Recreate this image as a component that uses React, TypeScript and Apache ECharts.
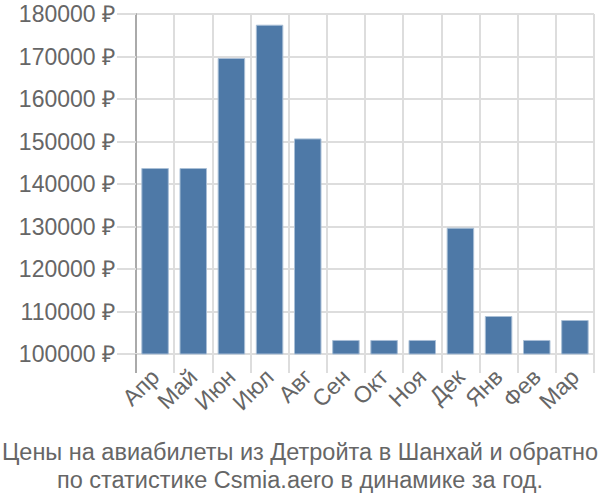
import React, { useEffect, useRef } from "react";
import * as echarts from "echarts";

const categories = ["Апр", "Май", "Июн", "Июл", "Авг", "Сен", "Окт", "Ноя", "Дек", "Янв", "Фев", "Мар"];
const prices = [143760, 143760, 169650, 177480, 150730, 103300, 103300, 103300, 129720, 108940, 103300, 108000];
const titleLines = [
  "Цены на авиабилеты из Детройта в Шанхай и обратно",
  "по статистике Csmia.aero в динамике за год.",
];

export default function App() {
  const ref = useRef<HTMLDivElement>(null);
  useEffect(() => {
    if (!ref.current) return;
    const chart = echarts.init(ref.current, undefined, { renderer: "svg" });
    const font = "Liberation Sans, Arial, sans-serif";
    chart.setOption({
      animation: false,
      backgroundColor: "#ffffff",
      textStyle: { fontFamily: font },
      title: {
        text: titleLines.join("\n"),
        left: "center",
        top: 432.5,
        textStyle: {
          fontSize: 23.5,
          fontWeight: "normal",
          color: "#666666",
          lineHeight: 28.5,
          fontFamily: font,
        },
      },
      grid: { left: 136, right: 6, top: 14, bottom: 146 },
      xAxis: {
        type: "category",
        data: categories,
        boundaryGap: true,
        axisLine: { show: true, lineStyle: { color: "#dddddd", width: 2 } },
        axisTick: { show: true, length: 19, lineStyle: { color: "#dddddd", width: 2 } },
        splitLine: { show: true, lineStyle: { color: "#dddddd", width: 2 } },
        axisLabel: {
          rotate: 45,
          fontSize: 23,
          color: "#666666",
          margin: 19,
          interval: 0,
        },
      },
      yAxis: {
        type: "value",
        min: 100000,
        max: 180000,
        interval: 10000,
        axisLine: { show: true, lineStyle: { color: "#aaaaaa", width: 2 } },
        axisTick: { show: true, length: 19, lineStyle: { color: "#dddddd", width: 2 } },
        splitLine: { show: true, lineStyle: { color: "#dddddd", width: 2 } },
        axisLabel: {
          fontSize: 23,
          color: "#666666",
          margin: 21,
          formatter: (v: number) => v + " ₽",
        },
      },
      series: [
        {
          type: "bar",
          data: prices,
          barCategoryGap: "28%",
          itemStyle: { color: "#4e79a7", borderColor: "#a9bfd6", borderWidth: 1 },
        },
      ],
    });
    const p0 = chart.convertToPixel({ gridIndex: 0 }, [0, 100000]) as number[];
    const p1 = chart.convertToPixel({ gridIndex: 0 }, [1, 100000]) as number[];
    const leftEdge = p0[0] - (p1[0] - p0[0]) / 2;
    chart.setOption({
      graphic: [
        {
          type: "line",
          shape: { x1: leftEdge, y1: p0[1], x2: leftEdge, y2: p0[1] + 19 },
          style: { stroke: "#aaaaaa", lineWidth: 2 },
          z: 10,
        },
      ],
    });
    return () => chart.dispose();
  }, []);
  return <div ref={ref} style={{ width: 600, height: 500, position: "absolute", left: 0, top: 0 }} />;
}
